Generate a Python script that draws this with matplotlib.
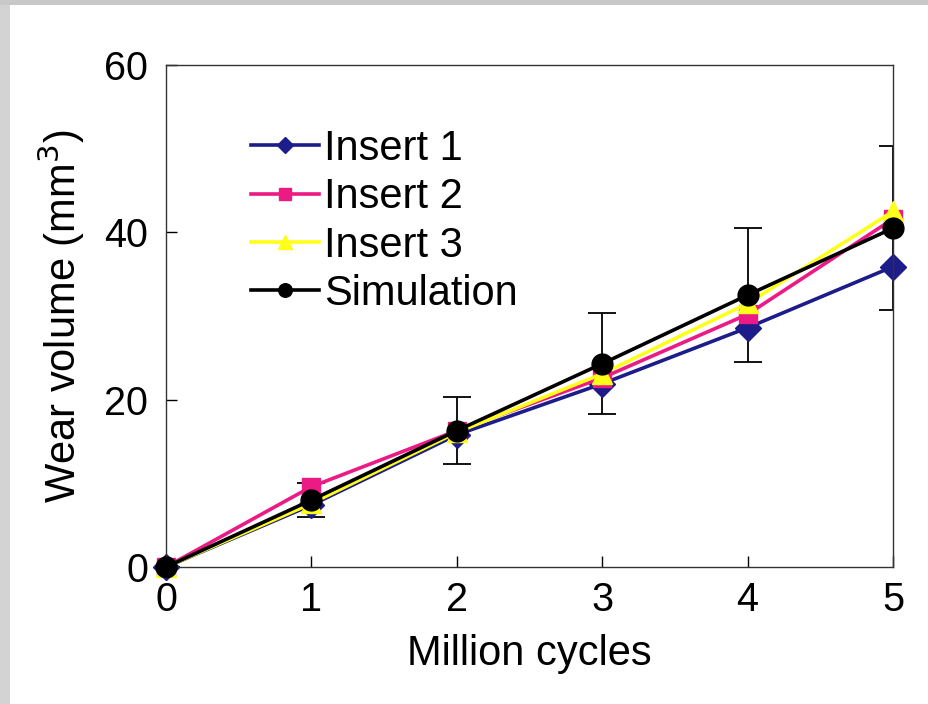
import numpy as np
import matplotlib
matplotlib.use("Agg")
import matplotlib.pyplot as plt
from matplotlib.patches import Rectangle

plt.rcParams["font.family"] = ["Liberation Sans", "DejaVu Sans"]

# Wear volume (mm^3) against millions of cycles
cycles = [0, 1, 2, 3, 4, 5]
insert_1 = [0.0, 7.4, 15.8, 21.9, 28.6, 35.9]
insert_2 = [0.0, 9.6, 16.3, 22.6, 30.2, 41.6]
insert_3 = [0.0, 7.6, 16.1, 23.1, 31.5, 42.5]
simulation = [0.0, 8.0, 16.3, 24.3, 32.5, 40.5]
sim_error = [0.0, 2.0, 4.0, 6.0, 8.0, 9.8]

fig = plt.figure(figsize=(9.29, 7.04), dpi=100)
fig.patch.set_facecolor("white")
# grey strips along the left and top edges
fig.patches.append(Rectangle((0, 0), 10 / 929, 1, transform=fig.transFigure,
                             facecolor="#d3d3d3", edgecolor="none", zorder=0))
fig.patches.append(Rectangle((0, 1 - 5 / 704), 1, 5 / 704, transform=fig.transFigure,
                             facecolor="#c8c8c8", edgecolor="none", zorder=0))

ax = fig.add_axes([166 / 929, 1 - 567 / 704, 727 / 929, 502 / 704])

ax.errorbar(cycles, simulation, yerr=sim_error, fmt="none", ecolor="black",
            elinewidth=1.3, capsize=10, capthick=1.3, zorder=1)

lw = 2.6
ax.plot(cycles, insert_1, color="#1c1c8a", lw=lw, marker="D", ms=13,
        label="Insert 1", zorder=2, clip_on=False)
ax.plot(cycles, insert_2, color="#ec1a85", lw=lw, marker="s", ms=13,
        label="Insert 2", zorder=3, clip_on=False)
ax.plot(cycles, insert_3, color="#ffff1a", lw=lw, marker="^", ms=15,
        label="Insert 3", zorder=4, clip_on=False)
ax.plot(cycles, simulation, color="black", lw=lw, marker="o", ms=15,
        label="Simulation", zorder=5, clip_on=False)

ax.set_xlim(0, 5)
ax.set_ylim(0, 60)
ax.set_xticks(range(6))
ax.set_yticks([0, 20, 40, 60])
ax.tick_params(direction="in", length=8, width=1, labelsize=28.5)
ax.tick_params(axis="x", pad=10)
ax.tick_params(axis="y", pad=13)
for s in ax.spines.values():
    s.set_linewidth(1)
    s.set_color("#333333")

ax.set_xlabel("Million cycles", fontsize=30, labelpad=11)
ax.set_ylabel("Wear volume (mm$^3$)", fontsize=30, labelpad=12)

leg = ax.legend(loc="upper left", bbox_to_anchor=(251 / 929, 1 - 129 / 704),
                bbox_transform=fig.transFigure, frameon=False,
                fontsize=30, handlelength=1.63, handletextpad=0.13,
                labelspacing=0.2, markerscale=0.65, borderaxespad=0,
                borderpad=0)

fig.savefig("out.png", dpi=100, facecolor=fig.get_facecolor())
